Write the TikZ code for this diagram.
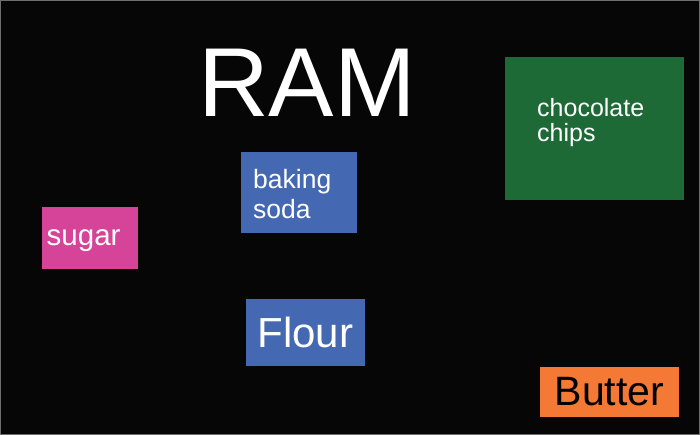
\documentclass[tikz,border=0pt]{standalone}
\usepackage{fontspec}
\setmainfont{Liberation Sans}
\definecolor{slideBlack}{RGB}{6, 6, 6}
\definecolor{frameGray}{RGB}{110, 110, 110}
\definecolor{boxBlue}{RGB}{68, 105, 178}
\definecolor{boxGreen}{RGB}{30, 106, 54}
\definecolor{boxPink}{RGB}{213, 68, 152}
\definecolor{boxOrange}{RGB}{243, 121, 52}
\tikzset{
  ingredient/.style={rectangle, inner sep=0pt, align=left, text=white},
  itemlabel/.style={inner sep=0pt, align=left, text=white, anchor=west}
}

\begin{document}
\begin{tikzpicture}[x=1pt, y=-1pt]
      \useasboundingbox (0,0) rectangle (700,435);
      \fill[slideBlack] (0,0) rectangle (700,435);
      \draw[frameGray, line width=1pt] (0.5,0.5) rectangle (699.5,434.5);

      \node[text=white, font=\fontsize{98}{100}\selectfont] (ram) at (307,82.5) {RAM};

      % boxes
      \node[ingredient, fill=boxGreen, minimum width=179pt, minimum height=143pt] (chips) at (594.5,128.5) {};
      \node[ingredient, fill=boxBlue, minimum width=116pt, minimum height=81pt] (soda) at (299,192.5) {};
      \node[ingredient, fill=boxPink, minimum width=96pt, minimum height=62pt] (sugar) at (90,238) {};
      \node[ingredient, fill=boxBlue, minimum width=119pt, minimum height=67pt,
            font=\fontsize{42}{44}\selectfont] (flour) at (305.5,332.5) {Flour};
      \node[ingredient, fill=boxOrange, text=black, minimum width=139pt, minimum height=50pt,
            font=\fontsize{41}{43}\selectfont] (butter) at (609.5,392) {Butter};

      % left-set labels
      \node[itemlabel, font=\fontsize{25}{25}\selectfont] (chipstext) at (537,123) {chocolate\\chips};
      \node[itemlabel, font=\fontsize{26.5}{30}\selectfont] (sodatext) at (253,194) {baking\\soda};
      \node[itemlabel, anchor=base west, font=\fontsize{29.5}{31}\selectfont] (sugartext) at (46.5,245.5) {sugar};
\end{tikzpicture}
\end{document}
